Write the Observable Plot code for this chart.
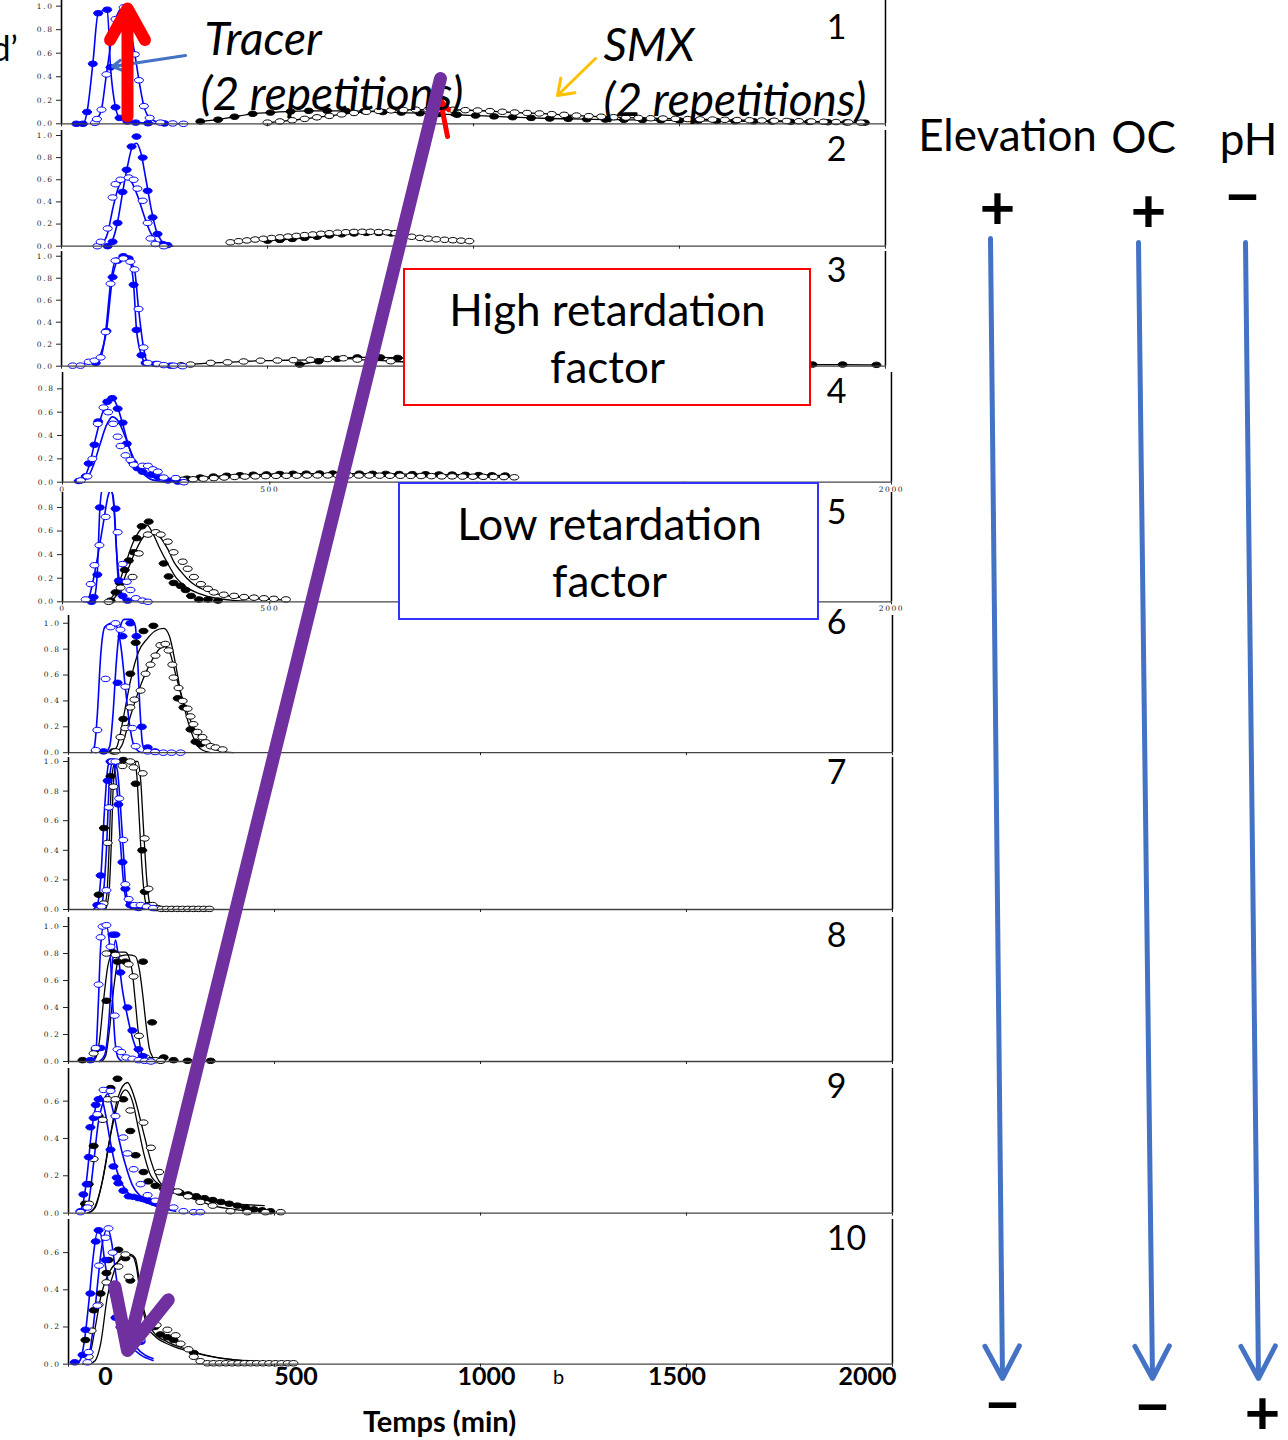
<!DOCTYPE html>
<html><head><meta charset="utf-8">
<script src="https://cdn.jsdelivr.net/npm/d3@7"></script>
<script src="https://cdn.jsdelivr.net/npm/@observablehq/plot@0.6"></script>
<style>
body{margin:0;background:#fff}
#root{position:relative;width:1288px;height:1440px;overflow:hidden;background:#fff}
</style>
</head><body><div id="root"></div>
<script>
// ---------------- DATA (time in min, relative concentration) ----------------
const yTicks10 = [0, 0.2, 0.4, 0.6, 0.8, 1.0];
const yTicks08 = [0, 0.2, 0.4, 0.6, 0.8];
const yTicks06 = [0, 0.2, 0.4, 0.6];
const xTicks = [0, 500, 1000, 1500, 2000];
const bottomTicks = [0, 500, 1000, 1500, 2000];
const panelNumbers = ["1","2","3","4","5","6","7","8","9","10"];

// Panel 1
const p1TracerFilled = [[36,0],[52,0],[62,0.1],[76,0.51],[89,0.94],[111,0.97],[119,0.48],[131,0.14],[141,0.05],[160,0.02],[180,0.01],[210,0.005],[250,0.003]];
const p1TracerOpen = [[81,0.008],[86,0.04],[97,0.12],[109,0.42],[131,0.89],[151,0.99],[178,0.59],[188,0.37],[200,0.15],[214,0.05],[240,0.01],[270,0.003],[296,0]];
const p1SmxFilled = [[337,0.02],[380,0.035],[420,0.06],[464,0.085],[507,0.095],[556,0.105],[600,0.11],[645,0.11],[690,0.11],[735,0.108],[780,0.1],[825,0.095],[870,0.09],[915,0.083],[960,0.077],[1005,0.07],[1050,0.063],[1095,0.056],[1140,0.05],[1185,0.045],[1230,0.042],[1275,0.039],[1320,0.036],[1365,0.034],[1410,0.032],[1455,0.03],[1500,0.028],[1545,0.026],[1590,0.024],[1635,0.022],[1680,0.021],[1725,0.019],[1770,0.017],[1815,0.016],[1860,0.014],[1905,0.012],[1950,0.01]];
const p1SmxOpen = [[500,0.01],[530,0.02],[560,0.03],[590,0.042],[620,0.055],[650,0.067],[680,0.08],[710,0.092],[740,0.102],[770,0.11],[800,0.114],[830,0.117],[860,0.12],[890,0.12],[920,0.12],[950,0.119],[980,0.116],[1010,0.113],[1040,0.108],[1070,0.102],[1100,0.096],[1130,0.092],[1160,0.088],[1190,0.082],[1220,0.076],[1250,0.07],[1280,0.065],[1310,0.06],[1340,0.056],[1370,0.053],[1400,0.05],[1430,0.047],[1460,0.045],[1490,0.042],[1520,0.04],[1550,0.038],[1580,0.036],[1610,0.034],[1640,0.032],[1670,0.03],[1700,0.028],[1730,0.026],[1760,0.024],[1790,0.022],[1820,0.02],[1850,0.017],[1880,0.015],[1910,0.012],[1940,0.01]];

// Panel 2
const p2TracerFilled = [[112,0],[124,0.04],[136,0.21],[148,0.49],[158,0.69],[170,0.9],[182,0.99],[197,0.8],[209,0.5],[221,0.26],[233,0.11],[245,0.02],[257,0.01]];
const p2TracerOpen = [[87,0],[95,0.04],[112,0.16],[124,0.44],[131,0.56],[143,0.6],[163,0.62],[175,0.6],[184,0.52],[197,0.41],[209,0.21],[216,0.07],[228,0.02],[248,0]];
const p2TracerFitFilled = [[105,0],[120,0.03],[135,0.2],[148,0.48],[160,0.72],[172,0.9],[182,0.93],[192,0.85],[205,0.6],[218,0.33],[230,0.14],[242,0.05],[255,0.01],[270,0]];
const p2TracerFitOpen = [[85,0],[100,0.03],[112,0.12],[125,0.35],[140,0.55],[158,0.62],[170,0.58],[185,0.45],[200,0.28],[215,0.13],[230,0.04],[245,0.01],[260,0]];
const p2SmxFilled = [[500,0.05],[530,0.057],[560,0.065],[590,0.075],[620,0.085],[650,0.097],[680,0.107],[710,0.115],[740,0.12],[770,0.12],[800,0.115]];
const p2SmxOpen = [[410,0.035],[430,0.045],[450,0.052],[470,0.06],[490,0.067],[510,0.074],[530,0.08],[550,0.087],[570,0.093],[590,0.1],[610,0.106],[630,0.112],[650,0.117],[670,0.122],[690,0.126],[710,0.129],[730,0.13],[750,0.13],[770,0.128],[790,0.125],[810,0.118],[830,0.1],[850,0.085],[870,0.075],[890,0.068],[910,0.062],[930,0.058],[950,0.054],[970,0.05],[990,0.046]];

// Panel 3
const p3TracerFilled = [[83,0.03],[109,0.32],[124,0.81],[136,0.96],[150,1.0],[163,0.98],[175,0.74],[182,0.33],[194,0.1],[204,0.03],[228,0.02],[265,0.005]];
const p3TracerOpen = [[27,0.005],[46,0.005],[66,0.04],[80,0.05],[95,0.08],[107,0.31],[119,0.75],[131,0.96],[150,0.98],[167,0.95],[177,0.88],[187,0.52],[199,0.17],[209,0.03],[233,0.02],[248,0.01],[272,0.005],[294,0]];
const p3SmxFilled = [[578,0.015],[624,0.045],[670,0.067],[718,0.08],[774,0.08],[816,0.075],[1823,0.015],[1896,0.015],[1978,0.012]];
const p3SmxOpen = [[290,0.008],[313,0.015],[362,0.03],[403,0.035],[442,0.043],[483,0.05],[524,0.052],[563,0.055],[604,0.058],[646,0.065],[684,0.072],[718,0.06],[757,0.055],[799,0.045],[840,0.04]];

// Panel 4
const p4TracerFilled = [[39,0.01],[56,0.05],[63,0.16],[77,0.32],[86,0.52],[108,0.69],[120,0.72],[133,0.63],[145,0.51],[155,0.33],[169,0.17],[181,0.12],[193,0.09],[213,0.065],[232,0.04],[254,0.015],[278,0.005]];
const p4TracerOpen = [[44,0.015],[60,0.05],[72,0.2],[85,0.5],[99,0.64],[110,0.6],[122,0.5],[133,0.39],[140,0.31],[152,0.23],[164,0.19],[172,0.15],[193,0.14],[206,0.14],[218,0.11],[230,0.09],[244,0.04],[273,0.035],[293,0]];
const p4TracerFitFilled = [[35,0],[50,0.03],[65,0.15],[80,0.38],[95,0.58],[110,0.7],[120,0.72],[132,0.65],[145,0.5],[158,0.33],[170,0.2],[185,0.12],[200,0.07],[220,0.04],[245,0.02],[275,0.005]];
const p4TracerFitOpen = [[40,0],[60,0.04],[75,0.15],[90,0.32],[105,0.48],[120,0.56],[135,0.52],[150,0.4],[165,0.26],[180,0.14],[195,0.07],[210,0.03],[230,0.01],[260,0]];
const p4SmxFilled = [[300,0.03],[332,0.04],[364,0.048],[396,0.055],[428,0.06],[460,0.064],[492,0.067],[524,0.07],[556,0.072],[588,0.073],[620,0.074],[652,0.074],[684,0.074],[716,0.073],[748,0.072],[780,0.071],[812,0.07],[844,0.069],[876,0.068],[908,0.066],[940,0.065],[972,0.063],[1004,0.061],[1036,0.059],[1068,0.057]];
const p4SmxOpen = [[290,0.02],[315,0.025],[340,0.03],[365,0.035],[390,0.04],[415,0.045],[440,0.048],[465,0.05],[490,0.052],[515,0.054],[540,0.055],[565,0.056],[590,0.057],[615,0.058],[640,0.058],[665,0.058],[690,0.058],[715,0.057],[740,0.057],[765,0.056],[790,0.055],[815,0.055],[840,0.054],[865,0.053],[890,0.052],[915,0.05],[940,0.05],[965,0.048],[990,0.047],[1015,0.046],[1040,0.045],[1065,0.044],[1090,0.042]];

// Panel 5
const p5TracerFilled = [[70,0],[75,0.04],[84,0.23],[90,0.8],[100,0.95],[112,0.96],[128,0.79],[136,0.18],[145,0.05],[157,0.01]];
const p5TracerOpen = [[56,0.02],[68,0.15],[77,0.31],[89,0.48],[104,0.72],[116,0.95],[133,0.59],[145,0.32],[155,0.17],[164,0.1],[177,0.03],[193,0.01],[206,0]];
const p5TracerFitFilled = [[70,0],[78,0.05],[84,0.25],[90,0.78],[96,0.95],[110,0.97],[122,0.9],[128,0.6],[133,0.25],[140,0.06],[150,0.01],[165,0]];
const p5TracerFitOpen = [[55,0],[65,0.05],[75,0.2],[88,0.45],[100,0.7],[110,0.9],[117,0.95],[124,0.8],[130,0.45],[138,0.15],[148,0.03],[160,0]];
const p5SmxFilled = [[116,0.01],[128,0.08],[138,0.16],[150,0.27],[160,0.35],[172,0.42],[179,0.54],[191,0.64],[208,0.68],[244,0.325],[256,0.215],[268,0.16],[285,0.135],[297,0.1],[310,0.05],[329,0.02],[351,0.02],[375,0.01]];
const p5SmxOpen = [[111,0],[140,0.12],[169,0.21],[184,0.41],[206,0.57],[225,0.59],[237,0.57],[254,0.51],[268,0.42],[290,0.34],[302,0.28],[317,0.21],[334,0.15],[351,0.11],[365,0.08],[389,0.06],[414,0.05],[438,0.04],[462,0.035],[486,0.03],[510,0.025],[539,0.02]];
const p5SmxFitFilled = [[110,0],[130,0.1],[150,0.3],[170,0.5],[190,0.62],[204,0.65],[215,0.6],[235,0.45],[253,0.33],[275,0.2],[300,0.12],[330,0.07],[370,0.03],[420,0.01],[480,0]];
const p5SmxFitOpen = [[115,0],[135,0.08],[155,0.25],[175,0.42],[195,0.55],[216,0.59],[235,0.55],[255,0.44],[270,0.33],[285,0.26],[300,0.2],[320,0.14],[350,0.09],[400,0.05],[450,0.03],[500,0.02],[545,0.015]];

// Panel 6
const p6TracerFilled = [[85,0.01],[119,0.54],[131,0.9],[150,1.0],[165,0.9],[178,0.2],[192,0.04],[210,0.01]];
const p6TracerOpen = [[66,0.02],[70,0.175],[90,0.57],[102,0.97],[114,1.0],[126,0.95],[138,0.51],[155,0.19],[163,0.05],[192,0.01],[210,0.005],[230,0],[250,0],[272,0]];
const p6TracerFitFilled = [[90,0],[100,0.05],[108,0.3],[116,0.7],[124,0.95],[135,1.03],[152,1.03],[162,0.98],[168,0.7],[174,0.3],[180,0.06],[190,0]];
const p6TracerFitOpen = [[55,0],[63,0.05],[70,0.3],[78,0.75],[88,0.97],[105,1.0],[118,0.97],[128,0.8],[138,0.5],[148,0.22],[158,0.06],[170,0.01],[180,0]];
const p6SmxFilled = [[109,0.01],[133,0.26],[150,0.61],[163,0.85],[182,0.94],[206,0.98],[265,0.42],[279,0.35],[296,0.18],[308,0.085],[320,0.065]];
const p6SmxOpen = [[114,0.01],[126,0.12],[138,0.19],[150,0.35],[160,0.41],[175,0.48],[187,0.61],[199,0.68],[211,0.75],[223,0.83],[235,0.84],[243,0.79],[252,0.68],[255,0.58],[267,0.5],[277,0.4],[289,0.34],[296,0.28],[303,0.22],[313,0.16],[325,0.12],[333,0.08],[345,0.05],[357,0.04],[374,0.025]];
const p6SmxFitFilled = [[105,0],[118,0.05],[135,0.3],[150,0.55],[170,0.78],[191,0.88],[210,0.94],[231,0.96],[245,0.9],[260,0.68],[272,0.47],[290,0.24],[304,0.11],[320,0.03],[345,0]];
const p6SmxFitOpen = [[115,0],[130,0.06],[150,0.28],[175,0.52],[200,0.7],[220,0.8],[232,0.82],[245,0.78],[262,0.58],[280,0.38],[300,0.22],[320,0.11],[345,0.04],[370,0.01],[400,0]];

// Panel 7
const p7TracerFilled = [[70,0.03],[78,0.23],[95,0.87],[102,1.0],[121,0.71],[131,0.32],[138,0.14],[150,0.03],[170,0.01]];
const p7TracerOpen = [[80,0.02],[92,0.13],[98,0.69],[107,1.0],[114,1.0],[123,0.75],[133,0.47],[138,0.17],[146,0.07],[160,0.03],[175,0.03],[190,0.02],[205,0.01]];
const p7TracerFitFilled = [[60,0],[70,0.03],[78,0.2],[88,0.7],[97,0.98],[108,1.0],[118,0.8],[126,0.45],[133,0.2],[140,0.06],[150,0.01],[165,0]];
const p7TracerFitOpen = [[72,0],[82,0.05],[92,0.4],[100,0.9],[108,1.0],[118,0.95],[126,0.7],[133,0.4],[140,0.12],[148,0.03],[160,0]];
const p7SmxFilled = [[73,0.1],[86,0.55],[102,0.9],[133,1.01],[163,0.85],[179,0.4],[185,0.12],[194,0.03],[210,0.01]];
const p7SmxOpen = [[85,0.04],[95,0.45],[109,0.83],[131,0.97],[150,1.0],[158,0.96],[180,0.92],[185,0.48],[194,0.14],[204,0.03],[215,0.01],[225,0.004],[238,0.004],[251,0.004],[264,0.004],[277,0.004],[290,0.004],[303,0.004],[316,0.004],[329,0.004],[342,0.004]];
const p7SmxFitFilled = [[85,0],[93,0.1],[99,0.45],[104,0.85],[111,0.98],[125,1.0],[160,1.0],[166,0.9],[172,0.6],[178,0.3],[185,0.08],[192,0.01],[200,0]];
const p7SmxFitOpen = [[90,0],[98,0.1],[104,0.45],[109,0.85],[116,0.98],[130,1.0],[168,1.0],[175,0.88],[182,0.55],[190,0.2],[197,0.04],[205,0]];

// Panel 8
const p8TracerFilled = [[53,0.01],[78,0.1],[107,0.94],[114,0.94],[126,0.66],[143,0.4],[155,0.23],[170,0.09],[180,0.04]];
const p8TracerOpen = [[66,0.1],[73,0.57],[78,0.92],[83,1.0],[92,1.01],[102,0.85],[112,0.34],[119,0.09],[128,0.07],[140,0.03],[155,0.02],[170,0.01],[185,0.005],[200,0]];
const p8TracerFitFilled = [[75,0],[88,0.05],[98,0.3],[106,0.7],[114,0.9],[120,0.8],[130,0.55],[142,0.35],[155,0.18],[168,0.07],[180,0.02],[195,0]];
const p8TracerFitOpen = [[58,0],[66,0.05],[72,0.4],[78,0.85],[85,1.0],[92,1.0],[100,0.85],[107,0.45],[113,0.15],[120,0.03],[130,0]];
const p8SmxFilled = [[34,0.01],[66,0.09],[92,0.45],[107,0.81],[119,0.74],[138,0.74],[181,0.74],[203,0.29],[231,0.03],[255,0.01],[289,0.005],[345,0.005]];
const p8SmxOpen = [[61,0.06],[92,0.8],[114,0.79],[146,0.72],[158,0.63],[171,0.19],[187,0.03],[200,0.01],[212,0.01],[224,0.005]];
const p8SmxFitFilled = [[55,0],[65,0.02],[75,0.15],[85,0.45],[95,0.7],[105,0.79],[120,0.81],[138,0.81],[148,0.76],[155,0.66],[162,0.45],[170,0.2],[176,0.08],[185,0.01],[195,0]];
const p8SmxFitOpen = [[80,0],[90,0.04],[100,0.25],[110,0.55],[118,0.72],[125,0.78],[145,0.79],[162,0.78],[172,0.68],[180,0.5],[188,0.28],[196,0.1],[205,0.03],[215,0]];

// Panel 9
const p9TracerFilled = [[29,0.01],[36,0.1],[44,0.155],[49,0.3],[53,0.46],[61,0.51],[66,0.58],[73,0.61],[102,0.34],[109,0.25],[117,0.19],[121,0.16],[133,0.12],[146,0.09],[158,0.087],[170,0.08],[182,0.075],[194,0.066],[206,0.057]];
const p9TracerOpen = [[29,0.005],[46,0.03],[70,0.53],[85,0.66],[102,0.655],[114,0.52],[133,0.405],[143,0.32],[158,0.235],[175,0.155],[192,0.096],[211,0.066],[255,0.03],[279,0.01],[304,0.005],[320,0.005]];
const p9TracerFitFilled = [[25,0],[35,0.05],[45,0.2],[55,0.42],[65,0.56],[78,0.63],[88,0.55],[100,0.4],[112,0.27],[125,0.18],[140,0.12],[160,0.08],[185,0.06],[210,0.04],[240,0.02]];
const p9TracerFitOpen = [[35,0],[48,0.05],[60,0.25],[72,0.48],[85,0.6],[95,0.64],[108,0.55],[122,0.4],[138,0.26],[155,0.15],[175,0.09],[200,0.05],[230,0.025],[260,0.01]];
const p9SmxFilled = [[40,0.05],[49,0.155],[61,0.36],[73,0.52],[102,0.67],[119,0.72],[133,0.61],[150,0.44],[163,0.31],[182,0.22],[194,0.17],[211,0.146],[231,0.13],[250,0.12],[270,0.11],[290,0.1],[310,0.09],[330,0.08],[350,0.07],[370,0.06],[390,0.05],[410,0.04],[430,0.03],[450,0.02],[470,0.015],[490,0.01]];
const p9SmxOpen = [[50,0.05],[61,0.29],[83,0.5],[95,0.61],[114,0.61],[150,0.55],[182,0.485],[200,0.35],[220,0.22],[240,0.15],[265,0.116],[290,0.09],[320,0.06],[350,0.04],[393,0.01],[434,0.005],[478,0.005],[515,0.005]];
const p9SmxFitFilled = [[45,0],[60,0.02],[80,0.15],[100,0.4],[120,0.62],[143,0.7],[160,0.62],[180,0.45],[200,0.28],[220,0.17],[250,0.12],[290,0.09],[330,0.07],[380,0.055],[430,0.045],[475,0.04]];
const p9SmxFitOpen = [[50,0],[65,0.03],[85,0.2],[105,0.45],[125,0.62],[138,0.66],[155,0.6],[170,0.45],[185,0.3],[200,0.2],[230,0.14],[270,0.1],[310,0.07],[350,0.04],[400,0.02],[450,0.01]];

// Panel 10
const p10TracerFilled = [[15,0.01],[34,0.05],[41,0.185],[53,0.38],[66,0.66],[73,0.72],[90,0.56],[114,0.25],[126,0.2],[155,0.11],[175,0.12]];
const p10TracerOpen = [[46,0.01],[49,0.065],[70,0.315],[74,0.53],[90,0.68],[97,0.73],[107,0.6],[175,0.13]];
const p10TracerFitFilled = [[20,0],[30,0.03],[40,0.15],[50,0.35],[60,0.58],[70,0.71],[78,0.7],[88,0.55],[100,0.4],[118,0.25],[130,0.18],[150,0.1],[175,0.05],[205,0.02]];
const p10TracerFitOpen = [[40,0],[50,0.05],[60,0.2],[70,0.42],[80,0.62],[95,0.73],[105,0.65],[115,0.48],[128,0.3],[145,0.17],[165,0.09],[185,0.05],[205,0.03]];
const p10SmxFilled = [[41,0.13],[61,0.29],[78,0.38],[92,0.49],[97,0.56],[121,0.615],[138,0.57],[150,0.45],[209,0.2],[223,0.16],[240,0.145],[255,0.13],[304,0.06]];
const p10SmxOpen = [[49,0.04],[56,0.18],[73,0.32],[92,0.44],[121,0.525],[138,0.59],[146,0.47],[192,0.22],[214,0.21],[240,0.185],[260,0.155],[272,0.11],[291,0.08],[304,0.04],[320,0.016],[337,0.005],[352,0.005],[367,0.005],[382,0.005],[397,0.005],[412,0.005],[427,0.005],[442,0.005],[457,0.005],[472,0.005],[487,0.005],[502,0.005],[517,0.005],[532,0.005],[546,0.005]];
const p10SmxFitFilled = [[50,0],[65,0.02],[78,0.11],[94,0.36],[114,0.52],[134,0.59],[155,0.58],[165,0.52],[171,0.43],[182,0.3],[191,0.235],[207,0.17],[240,0.12],[280,0.085],[320,0.056],[380,0.03],[450,0.017],[546,0.01]];
const p10SmxFitOpen = [[35,0],[45,0.02],[55,0.08],[65,0.2],[80,0.38],[100,0.5],[125,0.56],[150,0.59],[162,0.57],[170,0.48],[180,0.3],[192,0.2],[210,0.15],[250,0.1],[300,0.065],[360,0.035],[430,0.018],[520,0.008]];

// ---------------- STYLE / LAYOUT ----------------
const BLUE = "#0000FF", BLACK = "#000000";
const ellipseSymbol = {
  draw(ctx, size) {
    const r = Math.sqrt(size / Math.PI);
    const rx = r * 1.2, ry = r * 0.72, k = 0.5523;
    ctx.moveTo(rx, 0);
    ctx.bezierCurveTo(rx, ry * k, rx * k, ry, 0, ry);
    ctx.bezierCurveTo(-rx * k, ry, -rx, ry * k, -rx, 0);
    ctx.bezierCurveTo(-rx, -ry * k, -rx * k, -ry, 0, -ry);
    ctx.bezierCurveTo(rx * k, -ry, rx, -ry * k, rx, 0);
    ctx.closePath();
  }
};
const S = (pts, fit, color, filled) => ({pts, fit, color, filled});
const panels = [
  {top: 0, bottom: 123.3, left: 61, right: 885, yTop: 1.048, yTicks: yTicks10, xLabels: false, series: [
    S(p1SmxFilled, p1SmxFilled, BLACK, true), S(p1SmxOpen, p1SmxOpen, BLACK, false),
    S(p1TracerFilled, p1TracerFilled, BLUE, true), S(p1TracerOpen, p1TracerOpen, BLUE, false)]},
  {top: 130, bottom: 245.7, left: 61, right: 885, yTop: 1.045, yTicks: yTicks10, xLabels: false, series: [
    S(p2SmxFilled, p2SmxFilled, BLACK, true), S(p2SmxOpen, p2SmxOpen, BLACK, false),
    S(p2TracerFilled, p2TracerFitFilled, BLUE, true), S(p2TracerOpen, p2TracerFitOpen, BLUE, false)]},
  {top: 251, bottom: 365.7, left: 61, right: 885, yTop: 1.043, yTicks: yTicks10, xLabels: false, series: [
    S(p3SmxFilled, p3SmxFilled, BLACK, true), S(p3SmxOpen, p3SmxOpen, BLACK, false),
    S(p3TracerFilled, p3TracerFilled, BLUE, true), S(p3TracerOpen, p3TracerOpen, BLUE, false)]},
  {top: 372, bottom: 481.7, left: 62, right: 891, yTop: 0.94, yTicks: yTicks08, xLabels: true, series: [
    S(p4SmxFilled, p4SmxFilled, BLACK, true), S(p4SmxOpen, p4SmxOpen, BLACK, false),
    S(p4TracerFilled, p4TracerFitFilled, BLUE, true), S(p4TracerOpen, p4TracerFitOpen, BLUE, false)]},
  {top: 491.7, bottom: 601, left: 62, right: 891, yTop: 0.927, yTicks: yTicks08, xLabels: true, clip: true, series: [
    S(p5SmxFilled, p5SmxFitFilled, BLACK, true), S(p5SmxOpen, p5SmxFitOpen, BLACK, false),
    S(p5TracerFilled, p5TracerFitFilled, BLUE, true), S(p5TracerOpen, p5TracerFitOpen, BLUE, false)]},
  {top: 614.5, bottom: 751.7, left: 68, right: 892, yTop: 1.06, yTicks: yTicks10, xLabels: false, series: [
    S(p6SmxFilled, p6SmxFitFilled, BLACK, true), S(p6SmxOpen, p6SmxFitOpen, BLACK, false),
    S(p6TracerFilled, p6TracerFitFilled, BLUE, true), S(p6TracerOpen, p6TracerFitOpen, BLUE, false)]},
  {top: 757, bottom: 909, left: 68, right: 892, yTop: 1.027, yTicks: yTicks10, xLabels: false, series: [
    S(p7SmxFilled, p7SmxFitFilled, BLACK, true), S(p7SmxOpen, p7SmxFitOpen, BLACK, false),
    S(p7TracerFilled, p7TracerFitFilled, BLUE, true), S(p7TracerOpen, p7TracerFitOpen, BLUE, false)]},
  {top: 916.7, bottom: 1060.7, left: 68, right: 892, yTop: 1.067, yTicks: yTicks10, xLabels: false, series: [
    S(p8SmxFilled, p8SmxFitFilled, BLACK, true), S(p8SmxOpen, p8SmxFitOpen, BLACK, false),
    S(p8TracerFilled, p8TracerFitFilled, BLUE, true), S(p8TracerOpen, p8TracerFitOpen, BLUE, false)]},
  {top: 1067.7, bottom: 1212.3, left: 68, right: 892, yTop: 0.775, yTicks: yTicks06, xLabels: false, series: [
    S(p9SmxFilled, p9SmxFitFilled, BLACK, true), S(p9SmxOpen, p9SmxFitOpen, BLACK, false),
    S(p9TracerFilled, p9TracerFitFilled, BLUE, true), S(p9TracerOpen, p9TracerFitOpen, BLUE, false)]},
  {top: 1219, bottom: 1363.7, left: 68, right: 892, yTop: 0.778, yTicks: yTicks06, xLabels: false, series: [
    S(p10SmxFilled, p10SmxFitFilled, BLACK, true), S(p10SmxOpen, p10SmxFitOpen, BLACK, false),
    S(p10TracerFilled, p10TracerFitFilled, BLUE, true), S(p10TracerOpen, p10TracerFitOpen, BLUE, false)]}
];

const root = document.getElementById("root");
const toObj = arr => arr.map(([t, c]) => ({t, c}));

function place(svg, left, top) {
  svg.style.position = "absolute";
  svg.style.left = left + "px";
  svg.style.top = top + "px";
  root.appendChild(svg);
}

for (const p of panels) {
  const mt = 3, mb = 16, extraR = 40;
  const h = (p.bottom - p.top) + mt + mb;
  const w = p.right + extraR;
  const marks = [];
  for (const s of p.series) {
    marks.push(Plot.line(toObj(s.fit), {x: "t", y: "c", stroke: s.color, strokeWidth: s.color === BLUE ? 1.6 : 1.3, curve: "monotone-x", clip: !!p.clip}));
  }
  for (const s of p.series) {
    marks.push(Plot.dot(toObj(s.pts.filter(([t, c]) => c <= p.yTop + 0.005)), {x: "t", y: "c", r: 3.8, symbol: ellipseSymbol,
      fill: s.filled ? s.color : "white", stroke: s.color, strokeWidth: 1}));
  }
  marks.push(Plot.ruleY([0], {stroke: "#444", strokeWidth: 1.3}));
  marks.push(Plot.ruleX([0], {stroke: "#000", strokeWidth: 1.6}));
  marks.push(Plot.ruleX([2000], {stroke: "#000", strokeWidth: 1.5}));
  marks.push(Plot.axisY({ticks: p.yTicks, tickFormat: d3.format(".1f"), tickSize: 5, tickPadding: 3, label: null}));
  marks.push(Plot.axisX({ticks: xTicks, tickSize: 3, tickPadding: 1, tickFormat: p.xLabels ? d3.format("d") : () => "", label: null}));
  const svg = Plot.plot({
    width: w, height: h, marginLeft: p.left, marginRight: extraR, marginTop: mt, marginBottom: mb,
    x: {domain: [0, 2000]}, y: {domain: [0, p.yTop]},
    style: "background: transparent; overflow: visible; font-family: 'DejaVu Serif', serif; font-size: 7.5px; letter-spacing: 1.6px; color: #222;",
    marks
  });
  place(svg, 0, p.top - mt);
}

// Bottom printed time axis (its own, slightly offset scale as in the figure)
const bottomAxis = Plot.plot({
  width: 1288, height: 40, marginTop: 0, marginBottom: 40, marginLeft: 0, marginRight: 0,
  x: {domain: [0, 2000], range: [105, 867]},
  style: "background: transparent; overflow: visible; font-family: Lato, sans-serif; font-size: 25px; font-weight: bold; color: #000;",
  marks: [Plot.axisX({ticks: bottomTicks, tickSize: 0, tickPadding: 2, tickFormat: d3.format("d"), label: null})]
});
place(bottomAxis, 0, 1365);

// ---------------- ANNOTATIONS (page pixel coordinates) ----------------
const boxes = [
  {x1: 404, x2: 810, y1: 269, y2: 405, stroke: "#FF0000"},
  {x1: 399, x2: 818, y1: 483, y2: 619, stroke: "#3333FF"}
];
const boxTexts = [
  {x: 607, y: 311, text: "High retardation"}, {x: 607, y: 368, text: "factor"},
  {x: 609, y: 525, text: "Low retardation"}, {x: 609, y: 582, text: "factor"}
];
const italicTexts = [
  {x: 204, y: 40, text: "Tracer"}, {x: 200, y: 95, text: "(2 repetitions)"},
  {x: 603, y: 46, text: "SMX"}, {x: 603, y: 101, text: "(2 repetitions)"}
];
const numberPos = [[836,28],[836,150],[836,271],[836,392],[836,513],[836,623],[836,773],[836,936],[836,1087],[846,1239]];
const numberTexts = panelNumbers.map((n, i) => ({x: numberPos[i][0], y: numberPos[i][1], text: n}));
const headerTexts = [
  {x: 1007, y: 136, text: "Elevation"}, {x: 1143, y: 138, text: "OC"}, {x: 1248, y: 140, text: "pH"}
];
const signTexts = [
  {x: 997, y: 209, text: "+"}, {x: 1148, y: 212, text: "+"}, {x: 1242, y: 198, text: "\u2212"},
  {x: 1002, y: 1406, text: "\u2212"}, {x: 1152, y: 1408, text: "\u2212"}, {x: 1262, y: 1414, text: "+"}
];
const axisTitle = [{x: 439, y: 1422, text: "Temps (min)"}];
const smallTexts = [{x: 558, y: 1377, text: "b"}];
const cutText = [{x: -9, y: 50, text: "d\u2019"}];

const pointerArrow = [{x1: 185, y1: 55, x2: 112, y2: 66}];
const redArrow = [{x1: 127, y1: 116, x2: 127, y2: 8}];
const redSmallArrow = [{x1: 447, y1: 136, x2: 440, y2: 100}];
const orangeArrow = [{x1: 595, y1: 58, x2: 557, y2: 95}];
const trendArrows = [
  {x1: 990, y1: 238, x2: 1002, y2: 1378},
  {x1: 1138, y1: 242, x2: 1152, y2: 1378},
  {x1: 1245, y1: 242, x2: 1258, y2: 1378}
];
const purpleArrow = [{x1: 440, y1: 78, x2: 127, y2: 1350}];

const A = {x1: "x1", y1: "y1", x2: "x2", y2: "y2"};
const T = {x: "x", y: "y", text: "text", lineAnchor: "middle", fill: "black"};
const overlay = Plot.plot({
  width: 1288, height: 1440, margin: 0,
  x: {domain: [0, 1288], range: [0, 1288], axis: null},
  y: {domain: [0, 1440], range: [0, 1440], axis: null},
  style: "background: transparent; overflow: visible; font-family: Lato, sans-serif;",
  marks: [
    Plot.rect(boxes, {x1: "x1", x2: "x2", y1: "y1", y2: "y2", fill: "white", stroke: "stroke", strokeWidth: 2}),
    Plot.text(boxTexts, {...T, fontSize: 44, textAnchor: "middle"}),
    Plot.arrow(pointerArrow, {...A, stroke: "#4472C4", strokeWidth: 3, headLength: 5, headAngle: 60}),
    Plot.arrow(redArrow, {...A, stroke: "#FF0000", strokeWidth: 12, headLength: 7, headAngle: 58}),
    Plot.arrow(redSmallArrow, {...A, stroke: "#FF0000", strokeWidth: 5, headLength: 5, headAngle: 60}),
    Plot.arrow(orangeArrow, {...A, stroke: "#FFC000", strokeWidth: 3, headLength: 9, headAngle: 70}),
    Plot.text(italicTexts, {...T, fontSize: 46, fontStyle: "italic", textAnchor: "start"}),
    Plot.text(numberTexts, {...T, fontSize: 34, textAnchor: "middle"}),
    Plot.text(headerTexts, {...T, fontSize: 44, textAnchor: "middle"}),
    Plot.text(cutText, {...T, fontSize: 34, textAnchor: "start"}),
    Plot.text(axisTitle, {...T, fontSize: 29, fontWeight: "bold", textAnchor: "middle"}),
    Plot.text(smallTexts, {...T, fontSize: 20, textAnchor: "middle"}),
    Plot.arrow(trendArrows, {...A, stroke: "#4472C4", strokeWidth: 5, headLength: 11, headAngle: 56}),
    Plot.text(signTexts, {...T, fontSize: 62, fontWeight: "bold", textAnchor: "middle"}),
    Plot.arrow(purpleArrow, {...A, stroke: "#7030A0", strokeWidth: 13, headLength: 7.5, headAngle: 50})
  ]
});
place(overlay, 0, 0);
</script>
</body></html>
